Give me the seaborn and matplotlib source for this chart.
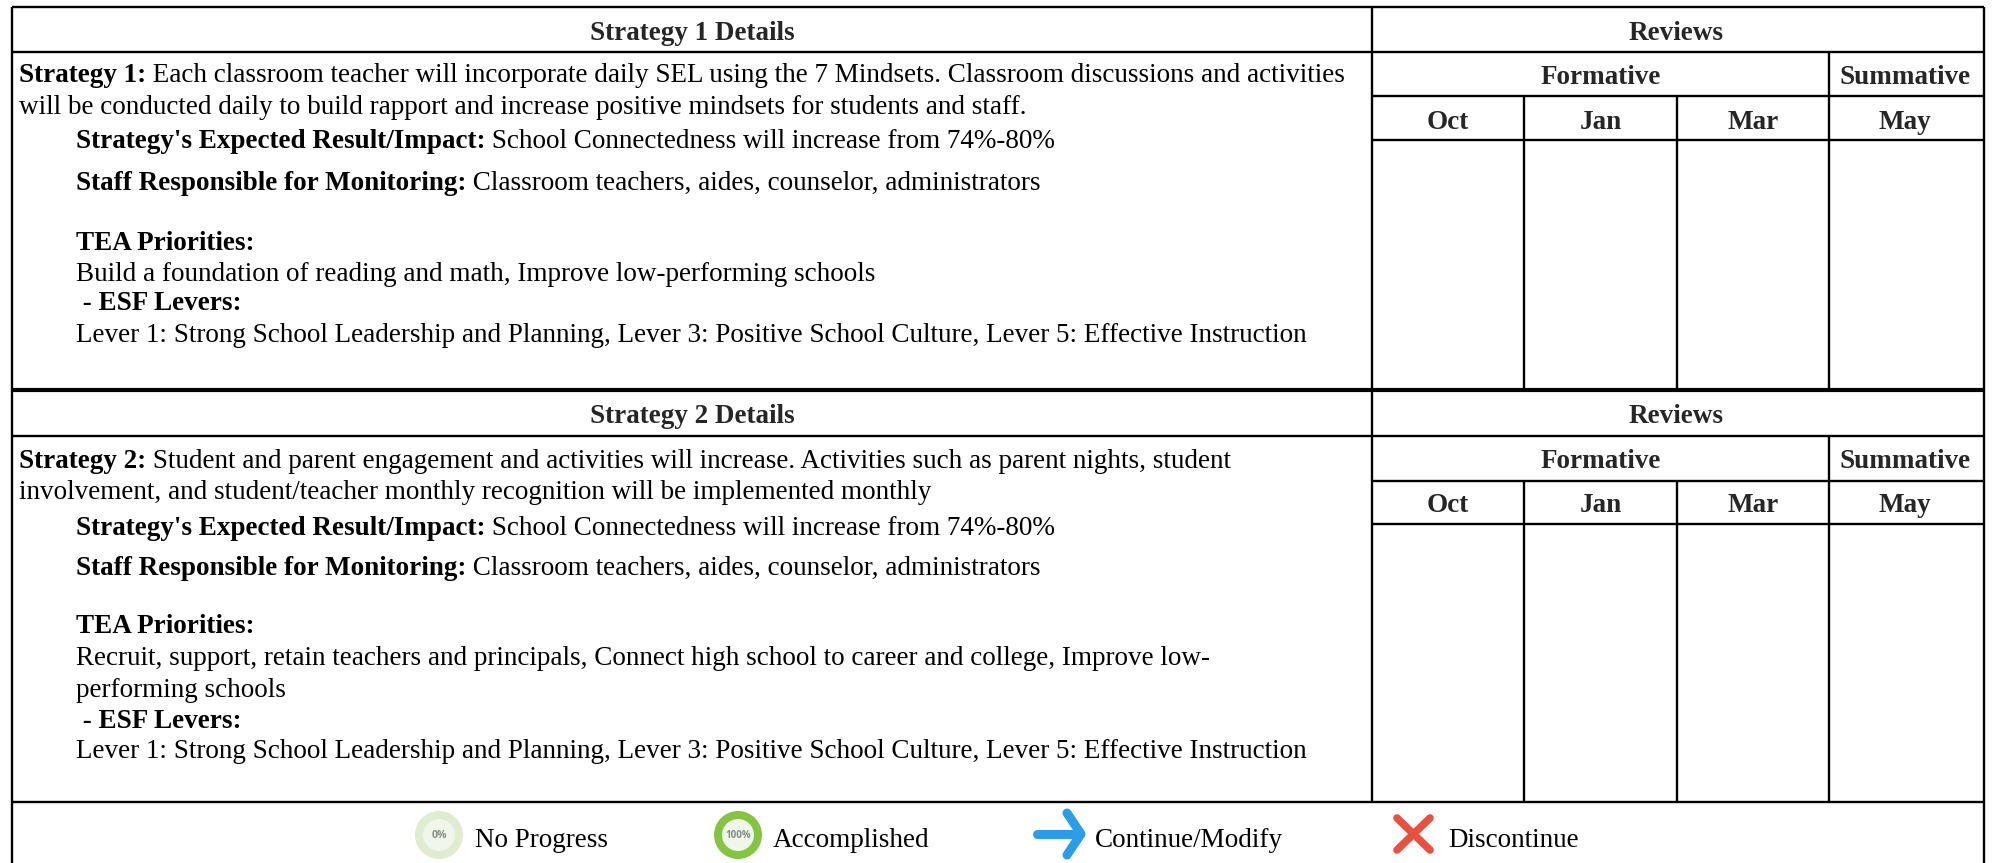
import seaborn as sns
import matplotlib.pyplot as plt
from matplotlib.patches import Circle

sns.set_theme(style="white")
plt.rcParams['font.family'] = ['Liberation Serif', 'DejaVu Serif']

# table text
months = ['Oct', 'Jan', 'Mar', 'May']
legend_labels = ['No Progress', 'Accomplished', 'Continue/Modify', 'Discontinue']
strategy1_rows = [
    ('Strategy 1:', ' Each classroom teacher will incorporate daily SEL using the 7 Mindsets. Classroom discussions and activities', 73, 0),
    ('', 'will be conducted daily to build rapport and increase positive mindsets for students and staff.', 105, 0),
    ("Strategy's Expected Result/Impact:", ' School Connectedness will increase from 74%-80%', 139, 1),
    ('Staff Responsible for Monitoring:', ' Classroom teachers, aides, counselor, administrators', 180, 1),
    ('TEA Priorities:', '', 240.5, 1),
    ('', 'Build a foundation of reading and math, Improve low-performing schools', 271, 1),
    (' - ESF Levers:', '', 300, 1),
    ('', 'Lever 1: Strong School Leadership and Planning, Lever 3: Positive School Culture, Lever 5: Effective Instruction', 332, 1),
]
strategy2_rows = [
    ('Strategy 2:', ' Student and parent engagement and activities will increase. Activities such as parent nights, student', 458, 0),
    ('', 'involvement, and student/teacher monthly recognition will be implemented monthly', 489, 0),
    ("Strategy's Expected Result/Impact:", ' School Connectedness will increase from 74%-80%', 525, 1),
    ('Staff Responsible for Monitoring:', ' Classroom teachers, aides, counselor, administrators', 565, 1),
    ('TEA Priorities:', '', 623, 1),
    ('', 'Recruit, support, retain teachers and principals, Connect high school to career and college, Improve low-', 655, 1),
    ('', 'performing schools', 687, 1),
    (' - ESF Levers:', '', 718, 1),
    ('', 'Lever 1: Strong School Leadership and Planning, Lever 3: Positive School Culture, Lever 5: Effective Instruction', 748, 1),
]

# layout in pixels
x_left, x_split, x_right = 12, 1372, 1984
x_center_right = 1981  # header labels sit a little left of the column centres
x_months = [1372, 1524.5, 1677, 1829.5, x_center_right]
fs = 19.5
lw = 1.7

fig, ax = plt.subplots(figsize=(19.93, 8.63), dpi=100)
fig.subplots_adjust(0, 0, 1, 1)
ax.set_xlim(0, 1993)
ax.set_ylim(863, 0)
ax.axis('off')


def mixed(x, y, bold, plain):
    # bold lead-in followed by regular text on the same baseline
    renderer = fig.canvas.get_renderer()
    if bold:
        t = ax.text(x, y, bold, fontsize=fs, weight='bold', va='center_baseline', color='black')
        x = ax.transData.inverted().transform(
            (t.get_window_extent(renderer).x1, 0))[0]
    if plain:
        ax.text(x, y, plain, fontsize=fs, va='center_baseline', color='black')


def block(top, head_y, rows, title, dy):
    # top = y of the block's header top, head_y = its bottom line
    sub = head_y + 44.5
    mon = sub + 43.5
    ax.text((x_left + x_split) / 2, (top + head_y) / 2 + dy, title, fontsize=fs, weight='bold',
            ha='center', va='center_baseline')
    ax.text((x_split + x_center_right) / 2, (top + head_y) / 2 + dy, 'Reviews', fontsize=fs, weight='bold',
            ha='center', va='center_baseline')
    ax.text((x_split + x_months[3]) / 2, (head_y + sub) / 2, 'Formative', fontsize=fs, weight='bold',
            ha='center', va='center_baseline')
    ax.text((x_months[3] + x_center_right) / 2, (head_y + sub) / 2, 'Summative', fontsize=fs, weight='bold',
            ha='center', va='center_baseline')
    for i, m in enumerate(months):
        ax.text((x_months[i] + x_months[i + 1]) / 2, (sub + mon) / 2 + dy, m, fontsize=fs, weight='bold',
                ha='center', va='center_baseline')
    ax.hlines(head_y, x_left, x_right, color='black', lw=lw)
    ax.hlines([sub, mon], x_split, x_right, color='black', lw=lw)
    for row in rows:
        mixed(19 if row[3] == 0 else 76, row[2], row[0], row[1])
    return sub, mon


sub1, mon1 = block(7.5, 52, strategy1_rows, 'Strategy 1 Details', 1)
sub2, mon2 = block(390, 436, strategy2_rows, 'Strategy 2 Details', 0)

# frame and dividers
ax.hlines(7.5, x_left, x_right, color='black', lw=lw)
ax.hlines(390, x_left, x_right, color='black', lw=3)
ax.hlines(802, x_left, x_right, color='black', lw=lw)
ax.vlines([x_left, x_right], 7.5, 863, color='black', lw=lw)
ax.vlines(x_split, 7.5, 802, color='black', lw=lw)
for y0, y1 in [(52, 390), (436, 802)]:
    ax.vlines(x_months[3], y0, y1, color='black', lw=lw)
for y0, y1 in [(sub1, 390), (sub2, 802)]:
    ax.vlines(x_months[1:3], y0, y1, color='black', lw=lw)

# legend icons
ax.add_patch(Circle((439, 835), 24, fc='#dfeccf', ec='none'))
ax.add_patch(Circle((439, 835), 16, fc='#f0f6e9', ec='none'))
ax.text(439, 835, '0%', fontsize=7.5, color='#7f8f85', weight='bold', family='Open Sans', ha='center', va='center')
ax.add_patch(Circle((738, 835), 24, fc='#85c440', ec='none'))
ax.add_patch(Circle((738, 835), 16, fc='#f0f6e9', ec='none'))
ax.text(738, 835, '100%', fontsize=7, color='#7f8f85', weight='bold', family='Open Sans', ha='center', va='center')

ax.plot([1037, 1080], [834, 834], color='#2b9de8', lw=6.5, solid_capstyle='round')
ax.plot([1067, 1081, 1067], [813, 834, 855], color='#2b9de8', lw=6.5,
        solid_capstyle='round', solid_joinstyle='round')
ax.plot([1397, 1430], [818, 850], color='#e8503f', lw=5.5, solid_capstyle='round')
ax.plot([1397, 1430], [850, 818], color='#e8503f', lw=5.5, solid_capstyle='round')

for lab, x in zip(legend_labels, [475, 772.5, 1095, 1448.5]):
    ax.text(x, 837, lab, fontsize=fs, va='center_baseline', color='black')

fig.savefig('out.png', dpi=100)
